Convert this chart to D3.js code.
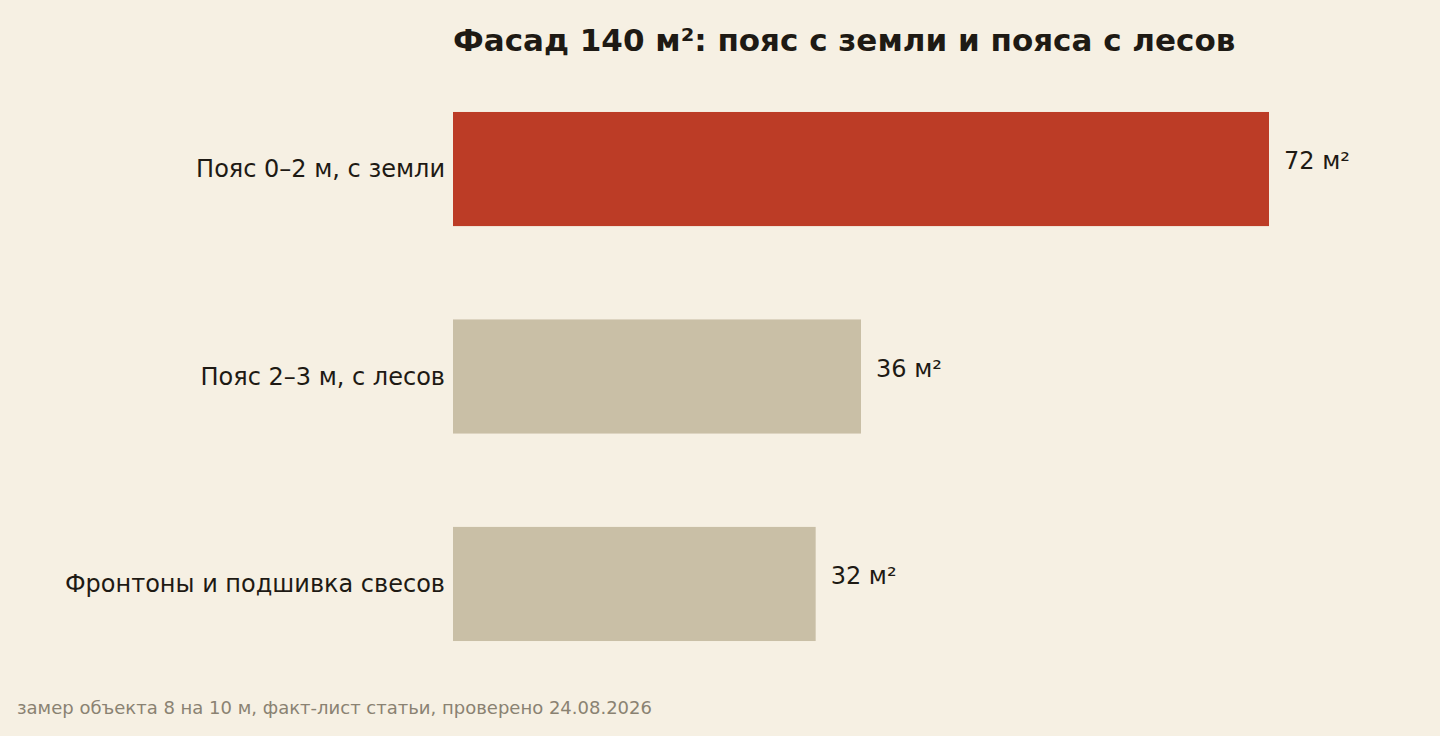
<!DOCTYPE html>
<head>
<meta charset="utf-8">
<script src="https://d3js.org/d3.v7.min.js"></script>
<style>
  body { margin: 0; background: #f6f0e3; }
  text { font-family: "DejaVu Sans", sans-serif; }
</style>
</head>
<body>
<script>
// data
const categories = ["Пояс 0–2 м, с земли", "Пояс 2–3 м, с лесов", "Фронтоны и подшивка свесов"];
const values = [72, 36, 32];
const valueLabels = ["72 м²", "36 м²", "32 м²"];
const highlight = [true, false, false];

const width = 1440, height = 736;
const svg = d3.select("body").append("svg")
    .attr("width", width).attr("height", height);

svg.append("rect").attr("width", width).attr("height", height).attr("fill", "#f6f0e3");

const x = d3.scaleLinear().domain([0, 72]).range([453, 1269]);
const y = d3.scaleBand().domain(categories).range([65.3, 687.7])
    .paddingInner(0.45).paddingOuter(0.225);

const rows = categories.map((c, i) => ({c: c, v: values[i], l: valueLabels[i], h: highlight[i]}));

svg.selectAll("rect.bar").data(rows).enter().append("rect")
    .attr("class", "bar")
    .attr("x", x(0))
    .attr("y", d => y(d.c))
    .attr("width", d => x(d.v) - x(0))
    .attr("height", y.bandwidth())
    .attr("fill", d => d.h ? "#bc3c26" : "#c9bfa6");

svg.selectAll("text.cat").data(rows).enter().append("text")
    .attr("x", 445)
    .attr("y", d => y(d.c) + y.bandwidth() / 2)
    .attr("dy", "0.35em")
    .attr("text-anchor", "end")
    .attr("font-size", 24)
    .attr("fill", "#1e1a14")
    .text(d => d.c);

svg.selectAll("text.val").data(rows).enter().append("text")
    .attr("x", d => x(d.v) + 15)
    .attr("y", d => y(d.c) + y.bandwidth() / 2 - 8)
    .attr("dy", "0.35em")
    .attr("font-size", 24)
    .attr("fill", "#1e1a14")
    .text(d => d.l);

svg.append("text")
    .attr("x", 453).attr("y", 51)
    .attr("font-size", 31).attr("font-weight", "bold")
    .attr("fill", "#1e1a14")
    .text("Фасад 140 м²: пояс с земли и пояса с лесов");

svg.append("text")
    .attr("x", 17).attr("y", 714)
    .attr("font-size", 18).attr("fill", "#8a8272")
    .text("замер объекта 8 на 10 м, факт-лист статьи, проверено 24.08.2026");
</script>
</body>
